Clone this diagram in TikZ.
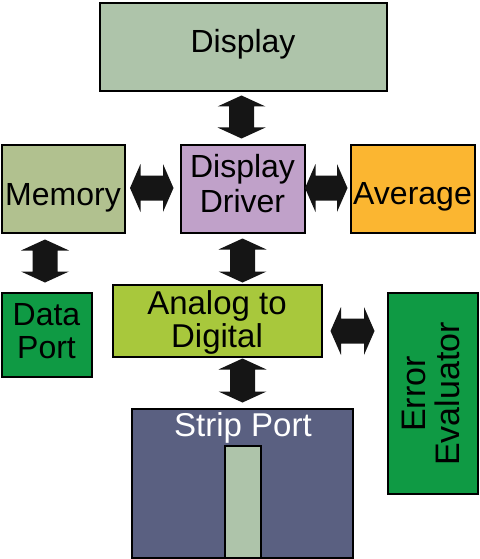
\documentclass[tikz,border=0pt]{standalone}
\usepackage{fontspec}
\setmainfont{Liberation Sans}
\usetikzlibrary{calc}
\definecolor{dispc}{HTML}{AEC4AA}
\definecolor{memc}{HTML}{B1C18F}
\definecolor{drvc}{HTML}{C0A1C9}
\definecolor{avgc}{HTML}{FBB631}
\definecolor{greenc}{HTML}{0F9A44}
\definecolor{adcc}{HTML}{A8C83C}
\definecolor{stripc}{HTML}{5A6081}
\definecolor{arrc}{HTML}{151515}
% vertical double block arrow: #1 top tip, #2 bottom tip
\newcommand{\vdblarrow}[2]{%
  \fill[arrc] (#1) -- ++(-24,-11) -- ++(11.5,0) |- ($(#2)+(-12.5,11)$) -- ++(-11.5,0) -- (#2)
    -- ++(24,11) -- ++(-11.5,0) |- ($(#1)+(12.5,-11)$) -- ++(11.5,0) -- cycle;}
% horizontal double block arrow: #1 left tip, #2 right tip
\newcommand{\hdblarrow}[2]{%
  \fill[arrc] (#1) -- ++(10.5,24) -- ++(0,-11.5) -| ($(#2)+(-10.5,12.5)$) -- ++(0,11.5) -- (#2)
    -- ++(-10.5,-24) -- ++(0,11.5) -| ($(#1)+(10.5,-12.5)$) -- ++(0,-11.5) -- cycle;}
\begin{document}
\begin{tikzpicture}[x=1pt,y=1pt,
  box/.style={draw=black, line width=2pt, rectangle, inner sep=0pt, outer sep=0pt},
  lbl/.style={font=\fontsize{32}{34}\selectfont, align=center, inner sep=0pt, anchor=base}]
\useasboundingbox (0,0) rectangle (479,-559);
% boxes
\node[box, fill=dispc, minimum width=287pt, minimum height=88pt] (disp) at (243,-47.5) {};
\node[box, fill=memc, minimum width=123pt, minimum height=88pt] (mem) at (63.5,-188.5) {};
\node[box, fill=drvc, minimum width=124pt, minimum height=88pt] (drv) at (242.5,-188.5) {};
\node[box, fill=avgc, minimum width=124pt, minimum height=88pt] (avg) at (412.5,-188.5) {};
\node[box, fill=greenc, minimum width=90pt, minimum height=84pt] (dport) at (46.5,-334.5) {};
\node[box, fill=adcc, minimum width=209pt, minimum height=72pt] (adc) at (217,-320.5) {};
\node[box, fill=greenc, minimum width=90pt, minimum height=201pt] (err) at (432.5,-393) {};
\node[box, fill=stripc, minimum width=221pt, minimum height=149pt] (strip) at (242,-483) {};
\node[box, fill=dispc, minimum width=36pt, minimum height=112pt] (slot) at (242.5,-502) {};
% labels (base = baseline of the last line)
\node[lbl] (tdisp) at (243,-52.7) {Display};
\node[lbl] (tmem) at (63,-205) {Memory};
\node[lbl, font=\fontsize{32}{35}\selectfont] (tdrv) at (242.5,-212) {Display\\Driver};
\node[lbl] (tavg) at (412.5,-204.5) {Average};
\node[lbl, font=\fontsize{32}{33}\selectfont] (tdport) at (46.5,-358) {Data\\Port};
\node[lbl, font=\fontsize{33}{33}\selectfont] (tadc) at (217,-347) {Analog to\\Digital};
\node[lbl, text=white, font=\fontsize{33}{34}\selectfont] (tstrip) at (243,-436) {Strip Port};
\node[font=\fontsize{34}{33.5}\selectfont, align=center, inner sep=0pt, rotate=90] (terr) at (431.2,-394) {Error\\Evaluator};
% connector end points
\coordinate (a1t) at ($(disp.south)+(-1.5,-4)$);
\coordinate (a1b) at ($(drv.north)+(-1,6)$);
\coordinate (a2l) at ($(mem.east)+(5,0.5)$);
\coordinate (a2r) at ($(drv.west)+(-7,0.5)$);
\coordinate (a3l) at ($(drv.east)+(0.5,0.5)$);
\coordinate (a3r) at ($(avg.west)+(-3,0.5)$);
\coordinate (a4t) at ($(dport.north)+(-1.5,53)$);
\coordinate (a4b) at ($(dport.north)+(-1.5,10)$);
\coordinate (a5t) at ($(drv.south)+(0,-6)$);
\coordinate (a5b) at ($(drv.south |- adc.north)+(0,2)$);
\coordinate (a6l) at ($(adc.east)+(9,-10.5)$);
\coordinate (a6r) at ($(err.west |- a6l)+(-13,0)$);
\coordinate (a7t) at ($(strip.north |- adc.south)+(0.5,-2)$);
\coordinate (a7b) at ($(strip.north)+(0.5,6)$);
% connectors
\vdblarrow{a1t}{a1b}
\hdblarrow{a2l}{a2r}
\hdblarrow{a3l}{a3r}
\vdblarrow{a4t}{a4b}
\vdblarrow{a5t}{a5b}
\hdblarrow{a6l}{a6r}
\vdblarrow{a7t}{a7b}
\end{tikzpicture}
\end{document}
